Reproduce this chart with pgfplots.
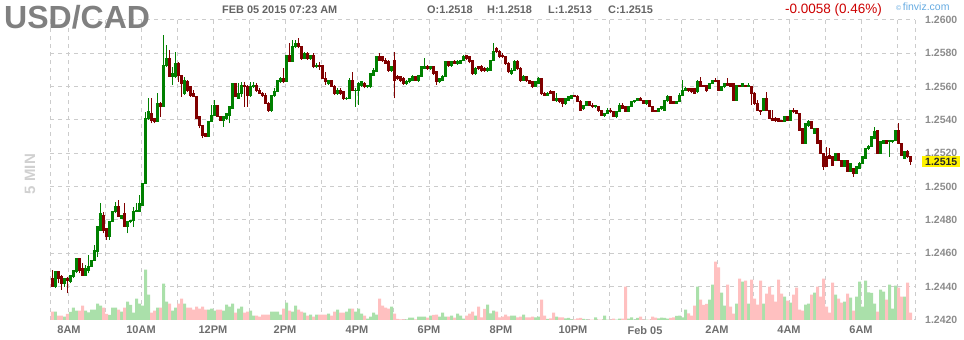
\documentclass[border=0pt]{standalone}
\usepackage{pgfplots}
\usepackage{pgfplotstable}
\pgfplotsset{compat=1.18}
\usepackage{fontspec}
\setmainfont{Liberation Sans}
\definecolor{upfill}{RGB}{30,245,30}
\definecolor{updark}{RGB}{0,128,0}
\definecolor{dnfill}{RGB}{235,0,0}
\definecolor{dndark}{RGB}{128,0,0}
\definecolor{volg}{RGB}{170,224,170}
\definecolor{volr}{RGB}{255,192,192}
\definecolor{gridc}{RGB}{204,204,204}
\definecolor{ylab}{RGB}{140,140,140}
\definecolor{xlab}{RGB}{110,110,110}
\definecolor{titlec}{RGB}{128,128,128}
\definecolor{infoc}{RGB}{100,100,100}
\definecolor{chg}{RGB}{204,0,0}
\definecolor{fv}{RGB}{100,170,225}
\definecolor{minc}{RGB}{208,208,208}

\pgfplotstableread{
x o h l c v
-5 1.2440 1.2449 1.2439 1.2449 8.3
-2 1.2442 1.2445 1.2440 1.2445 3.3
0 1.2443 1.2447 1.2442 1.2447 8
1 1.2446 1.2450 1.2445 1.2450 12.3
2 1.2449 1.2457 1.2448 1.2457 9.3
5 1.2447 1.2453 1.2447 1.2451 9.3
6 1.2450 1.2459 1.2448 1.2452 7.7
7 1.2452 1.2456 1.2452 1.2456 10.3
8 1.2456 1.2465 1.2456 1.2462 10.3
9 1.2461 1.2476 1.2458 1.2476 16.3
10 1.2474 1.2490 1.2474 1.2484 14.3
13 1.2470 1.2479 1.2468 1.2479 5
14 1.2479 1.2485 1.2479 1.2485 12.3
15 1.2485 1.2491 1.2484 1.2488 12.3
17 1.2481 1.2483 1.2481 1.2483 8.3
19 1.2476 1.2479 1.2472 1.2479 18.3
20 1.2479 1.2480 1.2478 1.2480 15
21 1.2480 1.2488 1.2476 1.2485 7.3
22 1.2485 1.2490 1.2485 1.2486 21.3
23 1.2485 1.2495 1.2485 1.2490 16.3
24 1.2489 1.2502 1.2489 1.2502 14.3
25 1.2502 1.2545 1.2502 1.2541 50.3
26 1.2541 1.2553 1.2540 1.2545 25.3
29 1.2539 1.2556 1.2539 1.2550 12.3
31 1.2548 1.2591 1.2548 1.2573 36.3
32 1.2573 1.2585 1.2572 1.2577 18.3
34 1.2566 1.2572 1.2561 1.2568 9.3
35 1.2566 1.2581 1.2565 1.2574 12.3
38 1.2556 1.2566 1.2555 1.2564 16.3
46 1.2530 1.2539 1.2530 1.2539 10.3
47 1.2539 1.2549 1.2539 1.2543 11.3
48 1.2543 1.2552 1.2543 1.2549 9.3
51 1.2540 1.2542 1.2536 1.2542 9.3
52 1.2541 1.2544 1.2540 1.2544 15.3
53 1.2543 1.2548 1.2538 1.2548 13.3
54 1.2547 1.2562 1.2547 1.2562 16.3
56 1.2553 1.2562 1.2553 1.2556 11.3
57 1.2556 1.2563 1.2554 1.2561 13.3
60 1.2555 1.2563 1.2554 1.2560 9.3
61 1.2560 1.2563 1.2559 1.2561 4.3
67 1.2546 1.2555 1.2545 1.2555 8.3
68 1.2555 1.2559 1.2554 1.2557 8.3
69 1.2557 1.2564 1.2557 1.2564 8.3
70 1.2563 1.2566 1.2562 1.2565 5.3
72 1.2563 1.2579 1.2563 1.2579 17.3
74 1.2575 1.2588 1.2575 1.2584 8.3
75 1.2584 1.2588 1.2583 1.2586 14.3
78 1.2577 1.2581 1.2577 1.2580 7.3
80 1.2577 1.2579 1.2576 1.2579 5.3
82 1.2572 1.2574 1.2571 1.2573 5.3
86 1.2562 1.2564 1.2561 1.2564 6.3
89 1.2556 1.2559 1.2555 1.2558 10.3
92 1.2553 1.2554 1.2552 1.2553 8.3
93 1.2553 1.2565 1.2553 1.2564 11.3
95 1.2558 1.2559 1.2548 1.2558 8.3
96 1.2558 1.2563 1.2549 1.2562 11.3
97 1.2561 1.2563 1.2560 1.2563 6.3
99 1.2560 1.2561 1.2559 1.2561 1.3
100 1.2560 1.2568 1.2559 1.2568 3.3
101 1.2567 1.2571 1.2567 1.2570 7.3
102 1.2569 1.2578 1.2569 1.2578 5.3
107 1.2570 1.2572 1.2569 1.2572 13.3
112 1.2562 1.2564 1.2561 1.2563 0.5
113 1.2563 1.2565 1.2562 1.2565 2.3
114 1.2564 1.2567 1.2564 1.2566 2.3
116 1.2564 1.2567 1.2563 1.2567 3.3
117 1.2566 1.2572 1.2566 1.2572 3.3
118 1.2571 1.2577 1.2571 1.2572 3.3
120 1.2571 1.2572 1.2570 1.2572 4.3
123 1.2563 1.2565 1.2562 1.2565 3.3
124 1.2564 1.2567 1.2564 1.2566 7.3
125 1.2566 1.2575 1.2566 1.2575 3.3
127 1.2573 1.2575 1.2572 1.2575 4.3
129 1.2574 1.2576 1.2573 1.2575 6.3
130 1.2574 1.2576 1.2574 1.2576 4.3
131 1.2576 1.2579 1.2576 1.2578 1.3
135 1.2568 1.2572 1.2567 1.2571 4.3
139 1.2570 1.2572 1.2569 1.2571 15.3
140 1.2570 1.2576 1.2570 1.2576 6.7
141 1.2576 1.2586 1.2576 1.2581 9.3
147 1.2568 1.2571 1.2567 1.2570 4.3
148 1.2570 1.2576 1.2570 1.2575 4.3
151 1.2564 1.2567 1.2564 1.2566 5.3
155 1.2560 1.2563 1.2560 1.2563 2.7
156 1.2562 1.2566 1.2562 1.2565 3.3
159 1.2555 1.2557 1.2555 1.2556 1
162 1.2552 1.2556 1.2551 1.2553 3.3
165 1.2550 1.2553 1.2549 1.2553 1.7
166 1.2552 1.2554 1.2552 1.2554 2
167 1.2553 1.2555 1.2553 1.2555 0.5
171 1.2547 1.2549 1.2546 1.2549 1
172 1.2549 1.2551 1.2549 1.2551 0.3
175 1.2548 1.2549 1.2547 1.2549 2.7
178 1.2543 1.2544 1.2542 1.2544 4.3
179 1.2544 1.2547 1.2544 1.2546 0.3
182 1.2542 1.2545 1.2541 1.2545 0.3
183 1.2545 1.2550 1.2545 1.2549 1.3
186 1.2545 1.2548 1.2545 1.2548 1.3
187 1.2548 1.2551 1.2548 1.2551 2.7
188 1.2551 1.2552 1.2550 1.2552 0.3
189 1.2552 1.2553 1.2552 1.2553 2
192 1.2550 1.2552 1.2549 1.2552 0.3
196 1.2545 1.2547 1.2545 1.2547 1.7
197 1.2547 1.2548 1.2546 1.2548 2.3
198 1.2546 1.2552 1.2546 1.2552 2
199 1.2552 1.2555 1.2551 1.2554 1.3
202 1.2550 1.2551 1.2550 1.2551 4
203 1.2551 1.2556 1.2551 1.2555 4.3
204 1.2555 1.2564 1.2555 1.2558 2.7
205 1.2558 1.2560 1.2558 1.2559 10.3
209 1.2557 1.2564 1.2556 1.2563 33.3
213 1.2559 1.2562 1.2559 1.2562 20.3
214 1.2562 1.2564 1.2562 1.2564 35.3
217 1.2558 1.2560 1.2558 1.2560 27.3
218 1.2560 1.2562 1.2559 1.2562 14.3
222 1.2552 1.2561 1.2552 1.2561 16.3
224 1.2560 1.2562 1.2560 1.2562 38.3
226 1.2560 1.2562 1.2560 1.2561 16.3
231 1.2546 1.2553 1.2546 1.2553 16.3
238 1.2539 1.2542 1.2539 1.2542 23.3
240 1.2540 1.2546 1.2540 1.2546 17.3
245 1.2526 1.2538 1.2526 1.2538 15.3
246 1.2537 1.2540 1.2536 1.2539 16.3
248 1.2532 1.2535 1.2532 1.2535 27.3
255 1.2516 1.2520 1.2516 1.2520 25.3
258 1.2512 1.2516 1.2512 1.2516 18.3
260 1.2509 1.2514 1.2509 1.2514 22.3
262 1.2508 1.2512 1.2508 1.2512 23.3
263 1.2511 1.2515 1.2511 1.2514 38.3
264 1.2514 1.2518 1.2514 1.2518 13.3
265 1.2517 1.2523 1.2517 1.2523 39.3
266 1.2523 1.2525 1.2522 1.2524 27.7
267 1.2524 1.2530 1.2524 1.2530 27
268 1.2529 1.2536 1.2529 1.2533 16.3
270 1.2520 1.2527 1.2520 1.2527 30.3
271 1.2526 1.2528 1.2526 1.2528 28.3
273 1.2527 1.2528 1.2518 1.2528 35.3
274 1.2527 1.2528 1.2526 1.2528 11.3
275 1.2528 1.2534 1.2528 1.2534 34.3
278 1.2517 1.2521 1.2517 1.2521 23.3
}\up

\pgfplotstableread{
x o h l c v
-6 1.2445 1.2450 1.2440 1.2440 8.3
-4 1.2449 1.2449 1.2442 1.2445 4.3
-3 1.2446 1.2447 1.2438 1.2442 4.3
-1 1.2445 1.2446 1.2436 1.2444 6
3 1.2457 1.2457 1.2448 1.2450 9.3
4 1.2451 1.2454 1.2447 1.2447 14.3
11 1.2483 1.2485 1.2472 1.2474 12.3
12 1.2475 1.2475 1.2468 1.2470 6
16 1.2488 1.2492 1.2482 1.2482 10.3
18 1.2484 1.2490 1.2476 1.2476 12.3
27 1.2544 1.2553 1.2538 1.2540 7.3
28 1.2541 1.2541 1.2538 1.2539 9.3
30 1.2550 1.2551 1.2542 1.2548 12.3
33 1.2577 1.2582 1.2566 1.2566 16.3
36 1.2574 1.2575 1.2563 1.2567 16.3
37 1.2567 1.2567 1.2554 1.2562 21.3
39 1.2563 1.2564 1.2557 1.2558 12.3
40 1.2560 1.2560 1.2554 1.2555 12.3
41 1.2556 1.2558 1.2554 1.2554 10.3
42 1.2554 1.2554 1.2541 1.2541 13.3
43 1.2542 1.2542 1.2535 1.2537 11.3
44 1.2537 1.2537 1.2529 1.2531 13.3
45 1.2532 1.2532 1.2530 1.2530 10.3
49 1.2549 1.2549 1.2542 1.2542 10.3
50 1.2542 1.2542 1.2540 1.2540 10.3
55 1.2562 1.2562 1.2554 1.2554 7.3
58 1.2561 1.2563 1.2548 1.2560 7.3
59 1.2560 1.2561 1.2548 1.2555 8.3
62 1.2561 1.2562 1.2557 1.2558 4.3
63 1.2558 1.2559 1.2556 1.2556 3.3
64 1.2556 1.2557 1.2554 1.2555 5.3
65 1.2555 1.2556 1.2550 1.2550 5.3
66 1.2550 1.2551 1.2545 1.2546 5.3
71 1.2565 1.2571 1.2562 1.2563 11.3
73 1.2579 1.2586 1.2575 1.2575 9.3
76 1.2586 1.2589 1.2583 1.2584 10.3
77 1.2584 1.2584 1.2576 1.2577 8.3
79 1.2580 1.2581 1.2576 1.2577 4.3
81 1.2579 1.2580 1.2571 1.2572 3.3
83 1.2573 1.2575 1.2570 1.2572 5.3
84 1.2573 1.2573 1.2565 1.2565 5.3
85 1.2565 1.2569 1.2561 1.2563 5.3
87 1.2564 1.2564 1.2560 1.2560 4.3
88 1.2560 1.2561 1.2555 1.2556 8.3
90 1.2558 1.2559 1.2555 1.2556 7.3
91 1.2557 1.2557 1.2552 1.2553 7.3
94 1.2564 1.2569 1.2558 1.2558 11.3
98 1.2562 1.2563 1.2559 1.2560 4.3
103 1.2578 1.2580 1.2576 1.2576 21.3
104 1.2578 1.2578 1.2575 1.2576 14.3
105 1.2576 1.2577 1.2574 1.2574 12.3
106 1.2575 1.2576 1.2569 1.2570 11.3
108 1.2576 1.2581 1.2553 1.2564 6.3
109 1.2566 1.2567 1.2564 1.2565 1
110 1.2566 1.2566 1.2563 1.2564 0.7
111 1.2565 1.2566 1.2561 1.2562 0.5
115 1.2566 1.2566 1.2564 1.2564 0.7
119 1.2572 1.2573 1.2570 1.2571 2.3
121 1.2572 1.2572 1.2567 1.2568 5
122 1.2569 1.2569 1.2561 1.2563 5.3
126 1.2575 1.2575 1.2572 1.2573 3.3
128 1.2575 1.2576 1.2574 1.2574 2.3
132 1.2579 1.2579 1.2576 1.2577 4.3
133 1.2578 1.2578 1.2574 1.2575 6.3
134 1.2576 1.2576 1.2567 1.2568 8.3
136 1.2572 1.2572 1.2570 1.2571 13.3
137 1.2572 1.2573 1.2569 1.2570 2.7
138 1.2571 1.2572 1.2569 1.2570 11
142 1.2583 1.2584 1.2580 1.2581 8.3
143 1.2581 1.2582 1.2577 1.2578 2.7
144 1.2579 1.2580 1.2577 1.2578 3.3
145 1.2578 1.2578 1.2573 1.2574 5.3
146 1.2574 1.2575 1.2568 1.2569 3.7
149 1.2575 1.2576 1.2570 1.2571 2.7
150 1.2571 1.2572 1.2563 1.2564 3.3
152 1.2566 1.2566 1.2563 1.2564 2.7
153 1.2564 1.2564 1.2562 1.2562 2.7
154 1.2563 1.2563 1.2559 1.2560 3.3
157 1.2565 1.2565 1.2555 1.2556 20.3
158 1.2556 1.2557 1.2555 1.2555 4.3
160 1.2557 1.2558 1.2556 1.2556 1.7
161 1.2557 1.2557 1.2552 1.2552 7.3
163 1.2553 1.2553 1.2550 1.2551 2.7
164 1.2553 1.2553 1.2548 1.2550 2.7
168 1.2555 1.2555 1.2554 1.2554 0.5
169 1.2554 1.2555 1.2551 1.2551 1.7
170 1.2551 1.2552 1.2546 1.2546 2
173 1.2551 1.2551 1.2549 1.2549 0.3
174 1.2549 1.2550 1.2547 1.2548 0.3
176 1.2548 1.2548 1.2545 1.2546 0.3
177 1.2546 1.2546 1.2543 1.2543 0.3
180 1.2546 1.2547 1.2544 1.2545 0.3
181 1.2545 1.2545 1.2542 1.2542 1.3
184 1.2549 1.2550 1.2547 1.2547 1.3
185 1.2548 1.2548 1.2545 1.2545 33.3
190 1.2553 1.2554 1.2552 1.2552 3.3
191 1.2552 1.2552 1.2550 1.2550 0.3
193 1.2552 1.2552 1.2548 1.2548 0.3
194 1.2548 1.2548 1.2545 1.2545 3.3
195 1.2546 1.2546 1.2545 1.2545 2.3
200 1.2554 1.2554 1.2550 1.2550 2
201 1.2551 1.2551 1.2550 1.2550 2.7
206 1.2559 1.2559 1.2557 1.2558 6.7
207 1.2559 1.2559 1.2556 1.2557 4.3
208 1.2559 1.2559 1.2556 1.2556 14.3
210 1.2563 1.2566 1.2560 1.2560 20.3
211 1.2561 1.2561 1.2560 1.2560 15
212 1.2561 1.2561 1.2557 1.2558 16
215 1.2564 1.2565 1.2563 1.2563 58.3
216 1.2564 1.2564 1.2558 1.2558 52.7
219 1.2562 1.2565 1.2561 1.2561 35.3
220 1.2562 1.2562 1.2560 1.2560 13.3
221 1.2562 1.2562 1.2552 1.2552 6.3
223 1.2561 1.2561 1.2560 1.2560 41.3
225 1.2561 1.2561 1.2560 1.2560 39.3
227 1.2560 1.2560 1.2549 1.2556 40.3
228 1.2556 1.2557 1.2549 1.2550 21.3
229 1.2550 1.2552 1.2546 1.2546 15.3
230 1.2546 1.2546 1.2543 1.2545 39.3
232 1.2553 1.2557 1.2546 1.2546 26.3
233 1.2546 1.2546 1.2541 1.2541 33.3
234 1.2541 1.2546 1.2540 1.2540 25.3
235 1.2541 1.2542 1.2539 1.2540 18.3
236 1.2541 1.2541 1.2539 1.2539 40.3
237 1.2540 1.2540 1.2539 1.2539 26.3
239 1.2542 1.2542 1.2540 1.2540 19.3
241 1.2546 1.2547 1.2544 1.2545 25.3
242 1.2546 1.2546 1.2544 1.2544 32.3
243 1.2544 1.2544 1.2534 1.2534 10.3
244 1.2535 1.2535 1.2526 1.2526 9.3
247 1.2539 1.2539 1.2535 1.2535 25.3
249 1.2535 1.2535 1.2526 1.2526 33.3
250 1.2528 1.2528 1.2520 1.2520 23.3
251 1.2520 1.2520 1.2510 1.2512 41.3
252 1.2518 1.2524 1.2512 1.2512 13.3
253 1.2519 1.2523 1.2517 1.2517 7.3
254 1.2518 1.2518 1.2513 1.2513 37.3
256 1.2520 1.2520 1.2516 1.2516 21.3
257 1.2516 1.2516 1.2512 1.2512 17.3
259 1.2516 1.2516 1.2509 1.2509 26.3
261 1.2511 1.2511 1.2506 1.2508 9.3
269 1.2534 1.2534 1.2520 1.2520 8.3
272 1.2528 1.2528 1.2526 1.2526 20.3
276 1.2534 1.2538 1.2526 1.2526 32.3
277 1.2526 1.2526 1.2519 1.2519 23.3
279 1.2521 1.2522 1.2517 1.2518 37.3
280 1.2518 1.2518 1.2513 1.2515 7.3
}\down

\pgfplotsset{
  base/.style={at={(50pt,20pt)}, anchor=south west, scale only axis,
    width=865pt, height=300pt, xmin=-6.833, xmax=281.5},
  wick/.style={draw=none, mark=none, forget plot,
    error bars/.cd, y dir=plus, y explicit, error mark=none,
    error bar style={line width=1pt, draw=#1}},
  bodyd/.style={draw=none, mark=none, forget plot,
    error bars/.cd, y dir=both, y explicit, error mark=none,
    error bar style={line width=3.3pt, draw=#1}},
  bodyf/.style={draw=none, mark=none, forget plot,
    error bars/.cd, y dir=both, y explicit, error mark=none,
    error bar style={line width=1.7pt, draw=#1}},
  bodyc/.style={draw=none, mark=none, forget plot,
    error bars/.cd, y dir=both, y explicit, error mark=-,
    error mark options={rotate=90, mark size=1.65pt, line width=0.8pt, draw=#1},
    error bar style={line width=0.05pt, draw=#1}},
}

\begin{document}
\begin{tikzpicture}
\path[use as bounding box] (0,0) rectangle (964pt,340pt);

% grid and labels
\begin{axis}[base,
  ymin=1.2420, ymax=1.2600,
  axis line style={draw=none},
  major tick length=0pt, minor tick length=0pt,
  xtick={-0.5,23.5,47.5,71.5,95.5,119.5,143.5,167.5,191.5,215.5,239.5,263.5},
  xticklabels={8AM,10AM,12PM,2PM,4PM,6PM,8PM,10PM,Feb 05,2AM,4AM,6AM},
  minor xtick={11.5,35.5,59.5,83.5,107.5,131.5,155.5,179.5,203.5,227.5,251.5,275.5},
  extra x ticks={-6.833,281.5}, extra x tick labels={,},
  extra x tick style={grid=major},
  ytick={1.2420,1.2440,1.2460,1.2480,1.2500,1.2520,1.2540,1.2560,1.2580,1.2600},
  yticklabels={1.2420,1.2440,1.2460,1.2480,1.2500,1.2520,1.2540,1.2560,1.2580,1.2600},
  yticklabel pos=right,
  extra y ticks={1.2515}, extra y tick labels={1.2515},
  extra y tick style={grid=none, yticklabel style={fill=yellow, text=black!85, inner xsep=3pt, inner ysep=1.8pt, xshift=-3pt}},
  grid=both,
  major grid style={gridc, line width=1pt, dash pattern=on 4pt off 4pt},
  minor grid style={gridc, line width=1pt, dash pattern=on 4pt off 4pt},
  yticklabel style={font=\fontsize{10.5}{12}\selectfont\bfseries, text=ylab, anchor=west, inner sep=0pt, xshift=10pt},
  xticklabel style={font=\fontsize{11}{12}\selectfont\bfseries, text=xlab, anchor=north, inner sep=0pt, yshift=-6pt},
]
\end{axis}

% volume
\begin{axis}[base, hide axis, ymin=0, ymax=300, ybar, bar width=3pt]
\addplot[fill=volg, draw=none, bar shift=0pt] table[x=x, y=v] {\up};
\addplot[fill=volr, draw=none, bar shift=0pt] table[x=x, y=v] {\down};
\end{axis}

% candles
\begin{axis}[base, hide axis, ymin=1.2420, ymax=1.2600]
\addplot[wick=updark] table[x=x, y=l, y error plus expr=\thisrow{h}-\thisrow{l}] {\up};
\addplot[wick=dndark] table[x=x, y=l, y error plus expr=\thisrow{h}-\thisrow{l}] {\down};
\addplot[bodyd=updark] table[x=x, y expr=(\thisrow{o}+\thisrow{c})/2, y error expr=(\thisrow{c}-\thisrow{o})/2] {\up};
\addplot[bodyd=dndark] table[x=x, y expr=(\thisrow{o}+\thisrow{c})/2, y error expr=(\thisrow{o}-\thisrow{c})/2] {\down};
\addplot[bodyf=upfill] table[x=x, y expr=(\thisrow{o}+\thisrow{c})/2, y error expr=(\thisrow{c}-\thisrow{o})/2] {\up};
\addplot[bodyf=dnfill] table[x=x, y expr=(\thisrow{o}+\thisrow{c})/2, y error expr=(\thisrow{o}-\thisrow{c})/2] {\down};
\addplot[bodyc=updark] table[x=x, y expr=(\thisrow{o}+\thisrow{c})/2, y error expr=(\thisrow{c}-\thisrow{o})/2] {\up};
\addplot[bodyc=dndark] table[x=x, y expr=(\thisrow{o}+\thisrow{c})/2, y error expr=(\thisrow{o}-\thisrow{c})/2] {\down};
\end{axis}

% texts
\node[anchor=base west, inner sep=0pt, font=\fontsize{32}{36}\selectfont\bfseries, text=titlec] at (4pt,311.3pt) {USD/CAD};
\node[anchor=base west, inner sep=0pt, font=\fontsize{10.9}{12}\selectfont\bfseries, text=infoc] at (222pt,326pt) {FEB 05 2015 07:23 AM};
\node[anchor=base west, inner sep=0pt, font=\fontsize{10.9}{12}\selectfont\bfseries, text=infoc] at (427pt,326pt) {O:1.2518};
\node[anchor=base west, inner sep=0pt, font=\fontsize{10.9}{12}\selectfont\bfseries, text=infoc] at (487pt,326pt) {H:1.2518};
\node[anchor=base west, inner sep=0pt, font=\fontsize{10.9}{12}\selectfont\bfseries, text=infoc] at (548pt,326pt) {L:1.2513};
\node[anchor=base west, inner sep=0pt, font=\fontsize{10.9}{12}\selectfont\bfseries, text=infoc] at (608pt,326pt) {C:1.2515};
\node[anchor=base west, inner sep=0pt, font=\fontsize{13.5}{15}\selectfont, text=chg] at (785pt,326pt) {-0.0058 (0.46\%)};
\node[anchor=base west, inner sep=0pt, text=fv] at (896pt,329pt) {\fontsize{7}{8}\selectfont\textcopyright\hspace{1.5pt}\fontsize{10.5}{12}\selectfont finviz.com};
\node[rotate=90, inner sep=0pt, font=\fontsize{15}{16}\selectfont\bfseries, text=minc] at (30pt,166pt) {5 MIN};
\end{tikzpicture}
\end{document}
